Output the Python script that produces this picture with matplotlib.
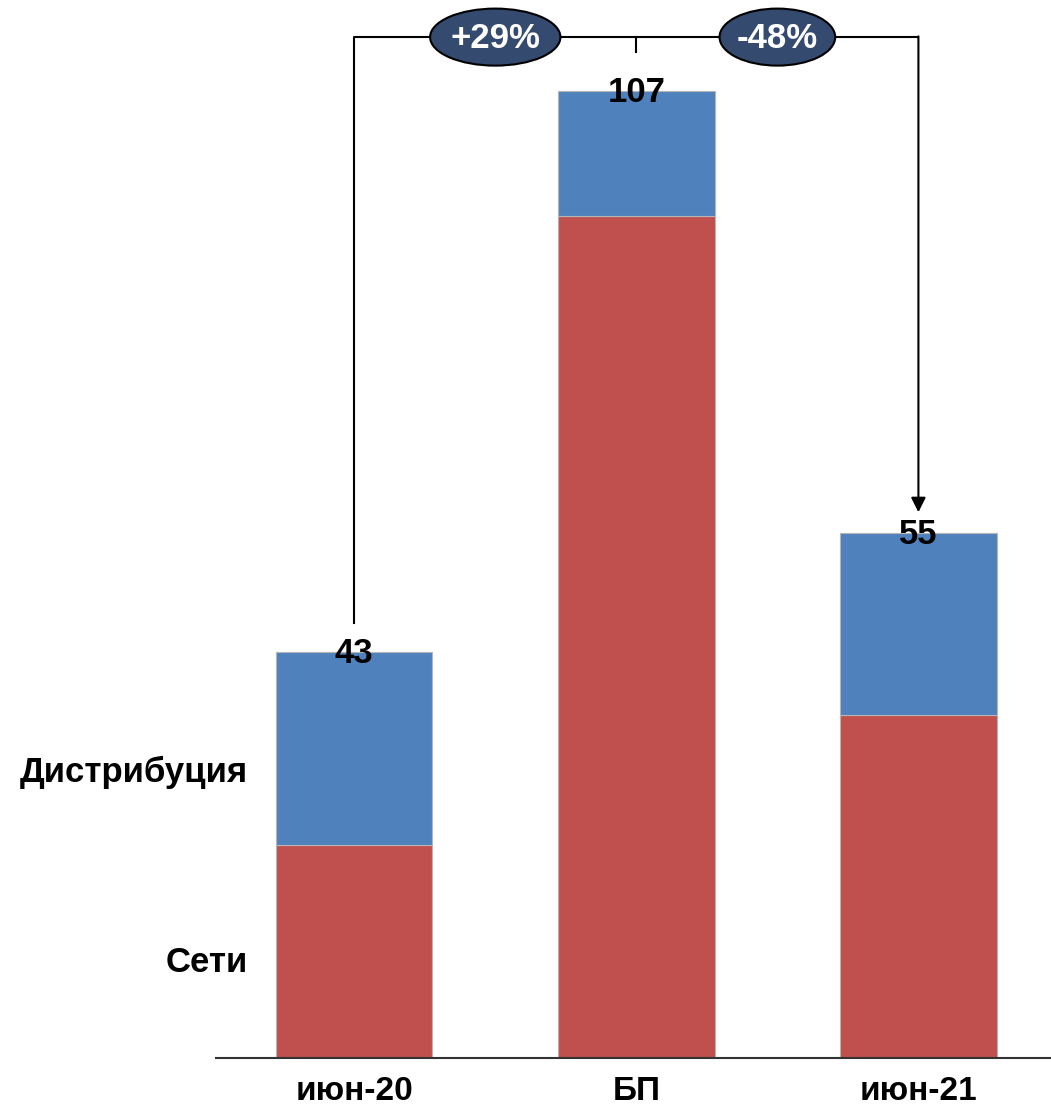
import matplotlib.pyplot as plt
from matplotlib.patches import Ellipse

plt.rcParams['font.family'] = ['Liberation Sans', 'DejaVu Sans']

# data
categories = ['июн-20', 'БП', 'июн-21']
seti = [23.5, 93.0, 37.9]          # red segment
distribution = [21.4, 13.9, 20.1]  # blue segment
total_labels = ['43', '107', '55']
changes = ['+29%', '-48%']

red = '#c0504d'
blue = '#4f81bd'
navy = '#344a6e'

fig = plt.figure(figsize=(10.51, 11.11), dpi=100)
ax = fig.add_axes([0.2055, 0.0477, 0.7945, 0.9523])

x = range(len(categories))
ax.bar(x, seti, width=0.555, color=red, edgecolor='#b5b5b5', linewidth=0.8)
ax.bar(x, distribution, width=0.555, bottom=seti, color=blue,
       edgecolor='#b5b5b5', linewidth=0.8)

tops = [s + d for s, d in zip(seti, distribution)]
for xi, top, lab in zip(x, tops, total_labels):
    ax.text(xi, top - 0.2, lab, ha='center', va='center', fontsize=25,
            fontweight='bold', color='black')

ax.set_xlim(-0.49, 2.47)
ax.set_ylim(0, 116.9)

# bracket with change bubbles
yb = 112.8
ax.plot([0, 0, 2], [tops[0] + 3.2, yb, yb], color='black', lw=1.5,
        clip_on=False, zorder=3)
ax.plot([1, 1], [yb, yb - 1.6], color='black', lw=1.5, clip_on=False, zorder=3)
ax.annotate('', xy=(2, tops[2] + 2.3), xytext=(2, yb + 0.08),
            arrowprops=dict(arrowstyle='-|>', color='black', lw=1.5,
                            mutation_scale=22, shrinkA=0, shrinkB=0),
            annotation_clip=False, zorder=3)

for cx, w, txt in zip([0.5, 1.5], [0.462, 0.41], changes):
    e = Ellipse((cx, yb), w, 6.3, facecolor=navy, edgecolor='black',
                lw=1.5, clip_on=False, zorder=4)
    ax.add_patch(e)
    ax.text(cx, yb - 0.1, txt, ha='center', va='center', fontsize=25,
            fontweight='bold', color='white', zorder=5)

# segment names on the left
fig.text(0.236, 1 - 772 / 1111, 'Дистрибуция', ha='right', va='center',
         fontsize=25, fontweight='bold')
fig.text(0.236, 1 - 962 / 1111, 'Сети', ha='right', va='center',
         fontsize=25, fontweight='bold')

ax.set_xticks(list(x))
ax.set_xticklabels(categories, fontsize=24, fontweight='bold')
ax.tick_params(axis='x', length=0, pad=13)
ax.set_yticks([])
for side in ['top', 'right', 'left']:
    ax.spines[side].set_visible(False)
ax.spines['bottom'].set_linewidth(1.5)
ax.spines['bottom'].set_color('#333333')

plt.savefig('out.png', dpi=100)
